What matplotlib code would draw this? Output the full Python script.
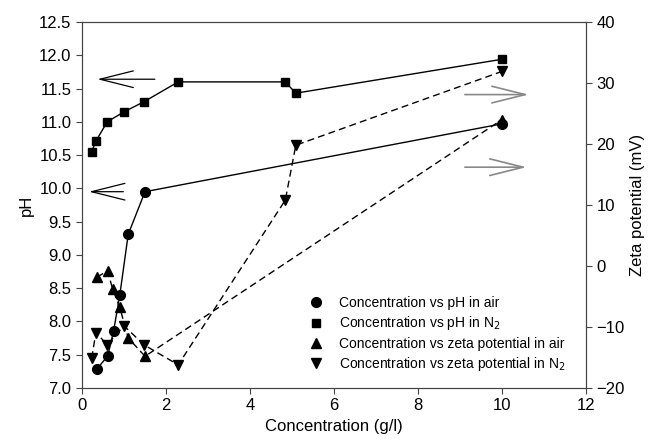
import numpy as np
import matplotlib.pyplot as plt

plt.rcParams['font.family'] = ['Liberation Sans', 'DejaVu Sans']

# pH in air
conc_ph_air = [0.36, 0.61, 0.75, 0.90, 1.10, 1.50, 10.0]
ph_air = [7.29, 7.48, 7.85, 8.40, 9.31, 9.95, 10.97]

# pH in N2
conc_ph_n2 = [0.23, 0.33, 0.60, 1.00, 1.47, 2.29, 4.84, 5.09, 10.0]
ph_n2 = [10.55, 10.71, 11.00, 11.15, 11.30, 11.60, 11.60, 11.43, 11.94]

# zeta potential in air
conc_z_air = [0.36, 0.61, 0.73, 0.90, 1.10, 1.50, 10.0]
zeta_air = [-1.8, -0.8, -3.8, -6.8, -11.8, -14.8, 24.0]

# zeta potential in N2
conc_z_n2 = [0.23, 0.33, 0.60, 1.00, 1.47, 2.29, 4.84, 5.09, 10.0]
zeta_n2 = [-15.1, -10.9, -12.9, -9.8, -12.9, -16.2, 10.8, 19.8, 31.9]

fig = plt.figure(figsize=(6.52, 4.46), dpi=100)
ax = fig.add_axes([0.1258, 0.13, 0.773, 0.8207])
ax2 = ax.twinx()

h1, = ax.plot(conc_ph_air, ph_air, '-', color='black', lw=1, marker='o', ms=7)
h2, = ax.plot(conc_ph_n2, ph_n2, '-', color='black', lw=1, marker='s', ms=6)
h3, = ax2.plot(conc_z_air, zeta_air, '--', color='black', lw=1, marker='^', ms=7, dashes=(5, 3))
h4, = ax2.plot(conc_z_n2, zeta_n2, '--', color='black', lw=1, marker='v', ms=7, dashes=(5, 3))

ax.set_xlim(0, 12)
ax.set_ylim(7.0, 12.5)
ax2.set_ylim(-20, 40)
ax.set_xticks(np.arange(0, 13, 2))
ax.set_yticks(np.arange(7.0, 12.51, 0.5))
ax.set_yticklabels([f'{v:.1f}' for v in np.arange(7.0, 12.51, 0.5)])
ax2.set_yticks(np.arange(-20, 41, 10))

for a in (ax, ax2):
    a.tick_params(direction='out', length=4, width=0.8, labelsize=12, color='#444444')
    for s in a.spines.values():
        s.set_color('#444444')

ax.set_xlabel('Concentration (g/l)', fontsize=12)
ax.set_ylabel('pH', fontsize=12)
ax2.set_ylabel('Zeta potential (mV)', fontsize=12)

# arrows pointing to the axis each series belongs to
arrow_style = '->,head_length=2.4,head_width=0.6'
ax.annotate('', xy=(0.3, 11.64), xytext=(1.8, 11.64),
            arrowprops=dict(arrowstyle=arrow_style, color='black', lw=0.9))
ax.annotate('', xy=(0.1, 9.95), xytext=(1.05, 9.95),
            arrowprops=dict(arrowstyle=arrow_style, color='black', lw=0.9))
ax2.annotate('', xy=(10.7, 28.1), xytext=(9.05, 28.1),
             arrowprops=dict(arrowstyle=arrow_style, color='#888888', lw=1.2))
ax2.annotate('', xy=(10.65, 16.2), xytext=(9.05, 16.2),
             arrowprops=dict(arrowstyle=arrow_style, color='#888888', lw=1.2))

labels = ['Concentration vs pH in air', 'Concentration vs pH in N$_2$',
          'Concentration vs zeta potential in air', 'Concentration vs zeta potential in N$_2$']
ax2.legend([h1, h2, h3, h4], labels, loc='lower left', bbox_to_anchor=(0.44, 0.025),
           frameon=False, fontsize=10, handlelength=1.0, handletextpad=1.1,
           labelspacing=0.32, borderaxespad=0)
leg = ax2.get_legend()
for line in leg.get_lines():
    line.set_linestyle('none')

fig.savefig('out.png', dpi=100)
